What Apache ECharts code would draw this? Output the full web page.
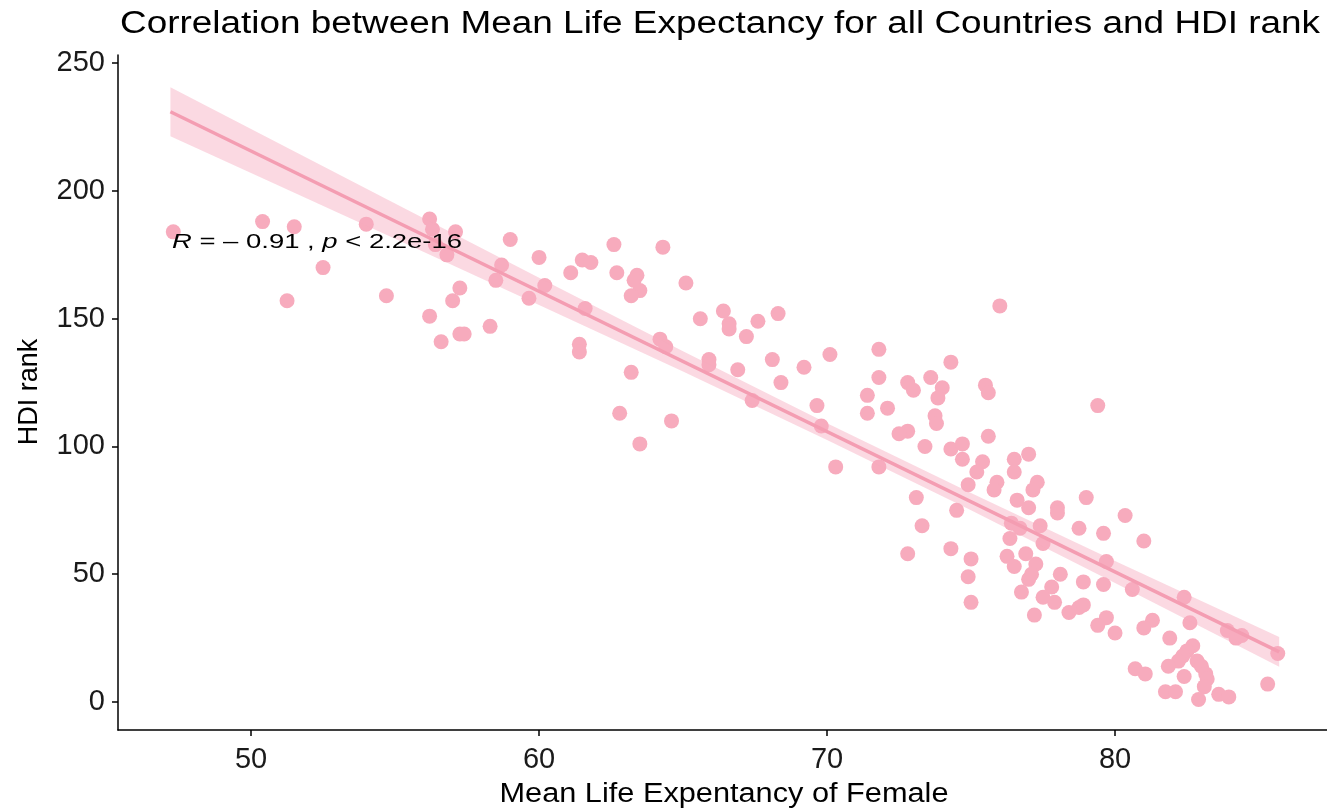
<!DOCTYPE html>
<html>
<head>
<meta charset="utf-8">
<script src="https://cdn.jsdelivr.net/npm/echarts@6/dist/echarts.min.js"></script>
<style>
html,body{margin:0;padding:0;background:#fff;}
#chart{width:1327px;height:810px;}
</style>
</head>
<body>
<div id="chart"></div>
<script>
// ---- data ----
const lifeExpFemale = [47.3,50.4,51.25,51.5,52.5,54.0,54.7,56.2,56.2,56.3,56.4,56.6,56.8,57.0,57.1,57.25,57.25,57.4,58.3,58.5,59.0,58.7,59.65,60.0,60.2,61.1,61.5,61.8,62.6,62.7,63.4,63.3,63.5,63.2,61.6,61.4,61.4,63.2,62.8,63.5,64.6,64.3,65.1,64.2,64.4,65.6,65.9,65.9,66.4,66.6,66.6,67.2,66.9,67.6,68.3,68.1,68.4,69.2,69.65,70.1,67.4,69.8,70.3,71.4,71.4,71.8,71.8,71.8,76.0,72.1,72.8,73.0,73.6,74.0,73.85,74.3,75.5,75.6,73.75,73.8,72.8,72.5,73.4,79.4,74.3,74.7,74.7,75.6,75.4,75.2,74.9,75.9,75.8,76.5,76.5,77.0,77.3,77.15,77.0,76.6,78.0,78.0,79.0,80.35,81.0,78.75,79.6,73.1,73.3,74.5,72.8,74.3,75.0,74.9,75.0,76.4,76.7,76.35,77.4,77.5,76.25,76.9,76.5,77.25,77.1,77.0,76.75,78.1,78.9,79.6,77.8,77.5,77.9,77.2,78.4,78.75,78.9,79.7,80.6,79.7,79.4,80.0,81.3,81.0,82.4,82.6,81.9,82.7,82.5,82.35,82.2,81.85,82.85,83.0,83.15,83.2,82.4,80.7,81.05,81.75,82.1,82.9,83.1,83.6,83.95,83.9,84.2,84.4,85.65,85.3];
const hdiRank = [184,188,157,186,170,187,159,189,151,185,179,141,175,157,184,144,162,144,147,165,181,171,158,174,163,168,173,172,179,168,167,165,161,159,154,140,137,129,113,101,110,178,164,142,139,150,134,132,153,148,146,143,130,149,152,134,125,131,116,136,118,108,92,120,113,138,127,92,155,115,125,122,127,123,119,133,124,121,112,109,106,105,100,116,99,101,95,104,94,90,85,86,83,95,90,97,86,83,76,79,76,74,80,73,63,68,66,80,69,75,58,60,56,49,39,70,68,64,69,62,57,58,53,54,50,48,43,50,47,46,45,41,39,34,35,37,38,55,44,33,30,27,32,29,41,31,25,22,20,18,16,14,16,14,11,9,10,13,11,4,4,1,6,3,2,28,25,26,19,7];

// fitted line (end points) and confidence band
const fitX = [47.2, 85.7];
const fitY = [231.0, 19.6];
const bandX = [47.2, 50, 55, 60, 65, 70, 75, 80, 85.7];
const bandLower = [221.4, 207.0, 181.3, 155.4, 129.3, 102.5, 75.0, 46.6, 13.8];
const bandUpper = [240.6, 224.2, 195.1, 166.0, 137.3, 109.1, 81.8, 55.2, 25.4];

const xTicks = [50, 60, 70, 80];
const yTicks = [0, 50, 100, 150, 200, 250];

const titleText = 'Correlation between Mean Life Expectancy for all Countries and HDI rank';
const xName = 'Mean Life Expentancy of Female';
const yName = 'HDI rank';
const statParts = ['R', ' = \u2013 0.91 , ', 'p', ' < 2.2e-16'];
const statItalic = [true, false, true, false];

// ---- chart ----
const FONT = '"Liberation Sans", Arial, Helvetica, sans-serif';
const PINK = '#F7ABBD';
const mctx = document.createElement('canvas').getContext('2d');
function textW(t, size, style) {
  mctx.font = (style || 'normal') + ' ' + size + 'px ' + FONT;
  return mctx.measureText(t).width;
}
function fit(t, size, target) { return target / textW(t, size); }

const points = lifeExpFemale.map((x, i) => [x, hdiRank[i]]);
const fitLine = fitX.map((x, i) => [x, fitY[i]]);

const chart = echarts.init(document.getElementById('chart'), null, {renderer: 'canvas'});

const titleSize = 31, xNameSize = 27, yNameSize = 27, statSize = 21;

// annotation pieces laid out side by side
const statChildren = [];
let off = 0;
statParts.forEach((t, i) => {
  const st = statItalic[i] ? 'italic' : 'normal';
  statChildren.push({type: 'text', x: off, y: 0, z: 100, zlevel: 1,
    style: {text: t, font: st + ' ' + statSize + 'px ' + FONT, fill: '#000', textAlign: 'left', textVerticalAlign: 'middle'}});
  off += textW(t, statSize, st);
});

chart.setOption({
  backgroundColor: '#fff',
  animation: false,
  textStyle: {fontFamily: FONT},
  grid: {left: 118, right: 0, top: 55, bottom: 80, containLabel: false},
  xAxis: {
    type: 'value', min: 45.38, max: 87.36,
    axisLine: {onZero: false, lineStyle: {color: '#000', width: 1.5}},
    axisTick: {customValues: xTicks, length: 6, lineStyle: {color: '#000', width: 1.5}},
    axisLabel: {customValues: xTicks, fontSize: 29, color: '#1a1a1a', margin: 15, fontFamily: FONT},
    splitLine: {show: false}
  },
  yAxis: {
    type: 'value', min: -10.96, max: 253.2,
    axisLine: {onZero: false, lineStyle: {color: '#000', width: 1.5}},
    axisTick: {customValues: yTicks, length: 6, lineStyle: {color: '#000', width: 1.5}},
    axisLabel: {customValues: yTicks, fontSize: 29, color: '#1a1a1a', margin: 13, fontFamily: FONT},
    splitLine: {show: false}
  },
  graphic: [
    {type: 'text', x: 720, y: 24, z: 100, scaleX: fit(titleText, titleSize, 1200),
     style: {text: titleText, font: titleSize + 'px ' + FONT, fill: '#000', textAlign: 'center', textVerticalAlign: 'middle'}},
    {type: 'text', x: 724, y: 795, z: 100, scaleX: fit(xName, xNameSize, 449),
     style: {text: xName, font: xNameSize + 'px ' + FONT, fill: '#000', textAlign: 'center', textVerticalAlign: 'middle'}},
    {type: 'text', x: 30, y: 392, z: 100, rotation: Math.PI / 2,
     style: {text: yName, font: yNameSize + 'px ' + FONT, fill: '#000', textAlign: 'center', textVerticalAlign: 'middle'}},
    {type: 'group', x: 172, y: 242, z: 100, zlevel: 1, scaleX: 290 / off, children: statChildren}
  ],
  series: [
    {
      type: 'scatter', data: points, symbolSize: 15, z: 2,
      itemStyle: {color: PINK, opacity: 1}
    },
    {
      type: 'custom', z: 3, silent: true,
      data: [0],
      renderItem: function (params, api) {
        const pts = [];
        for (let i = 0; i < bandX.length; i++) pts.push(api.coord([bandX[i], bandUpper[i]]));
        for (let i = bandX.length - 1; i >= 0; i--) pts.push(api.coord([bandX[i], bandLower[i]]));
        return {type: 'polygon', shape: {points: pts}, style: {fill: 'rgba(247,170,190,0.45)', stroke: 'none'}};
      }
    },
    {
      type: 'line', data: fitLine, z: 4, symbol: 'none',
      lineStyle: {color: '#F49DB2', width: 3.5}
    }
  ]
});
</script>
</body>
</html>
